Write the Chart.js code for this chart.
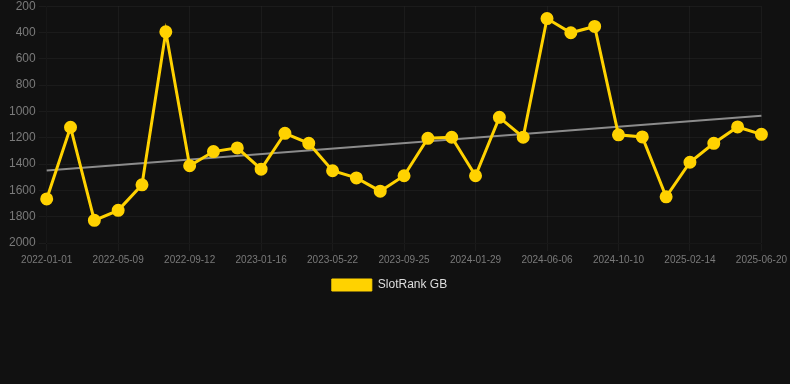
<!DOCTYPE html>
<html>
<head>
<meta charset="utf-8">
<script src="https://cdn.jsdelivr.net/npm/chart.js@4/dist/chart.umd.min.js"></script>
<style>
    html, body { margin: 0; padding: 0; background: #111111; overflow: hidden; }
    .chart-wrapper { position: relative; width: 790px; height: 305px; margin-top: -4px; }
</style>
</head>
<body>
<div class="chart-wrapper">
    <canvas id="rank-chart"></canvas>
</div>
<script>
// SlotRank GB - rank over time (lower is better, axis reversed)

const dates = [
    '2022-01-01', '2022-02-14', '2022-03-28', '2022-05-09', '2022-06-20', '2022-08-01',
    '2022-09-12', '2022-10-24', '2022-12-05', '2023-01-16', '2023-02-27', '2023-04-10',
    '2023-05-22', '2023-07-03', '2023-08-14', '2023-09-25', '2023-11-06', '2023-12-18',
    '2024-01-29', '2024-03-11', '2024-04-22', '2024-06-06', '2024-07-18', '2024-08-29',
    '2024-10-10', '2024-11-21', '2025-01-02', '2025-02-14', '2025-03-28', '2025-05-09',
    '2025-06-20'
];

const rankGB = [
    1665, 1120, 1828, 1752, 1558, 395, 1413, 1305, 1277, 1439,
    1166, 1242, 1451, 1505, 1606, 1489, 1204, 1196, 1489, 1045,
    1196, 294, 402, 354, 1178, 1194, 1649, 1386, 1242, 1118,
    1174
];

// trend line: only the two end points are given, gap spanned
const trend = [1449, null, null, null, null, null, null, null, null, null,
    null, null, null, null, null, null, null, null, null, null,
    null, null, null, null, null, null, null, null, null, null,
    1032];

const yTicks = { min: 200, max: 2000, step: 200 };

const textColor = '#7a7a7a';
const gridColor = 'rgba(255, 255, 255, 0.045)';
const lineColor = '#ffd200';

const ctx = document.getElementById('rank-chart').getContext('2d');

const chart = new Chart(ctx, {
    type: 'line',
    data: {
        labels: dates,
        datasets: [
            {
                label: 'SlotRank GB',
                data: rankGB,
                borderColor: lineColor,
                backgroundColor: lineColor,
                borderWidth: 3,
                pointRadius: 5,
                pointHoverRadius: 6,
                tension: 0,
                fill: false,
                order: 1
            },
            {
                label: 'Trend',
                data: trend,
                borderColor: '#8c8c8c',
                borderWidth: 2,
                pointRadius: 0,
                spanGaps: true,
                fill: false,
                order: 2
            }
        ]
    },
    options: {
        responsive: true,
        maintainAspectRatio: false,
        animation: false,
        layout: { padding: { left: 6, right: 17, top: 0, bottom: 0 } },
        scales: {
            x: {
                ticks: {
                    color: textColor,
                    font: { family: 'Liberation Sans, Arial', size: 10 },
                    maxRotation: 0,
                    autoSkip: true,
                    callback: function (val, i) {
                        return i % 3 === 0 ? this.getLabelForValue(val) : null;
                    }
                },
                grid: { color: gridColor }
            },
            y: {
                reverse: true,
                min: yTicks.min,
                max: yTicks.max,
                ticks: {
                    stepSize: yTicks.step,
                    color: textColor,
                    font: { family: 'Liberation Sans, Arial', size: 12 },
                    callback: (v) => String(v)
                },
                grid: { color: gridColor }
            }
        },
        plugins: {
            legend: {
                position: 'bottom',
                labels: {
                    color: '#dddddd',
                    font: { family: 'Liberation Sans, Arial', size: 12 },
                    generateLabels: (c) => Chart.defaults.plugins.legend.labels.generateLabels(c)
                        .filter(item => item.datasetIndex === 0)
                        .map(item => ({ ...item, lineWidth: 1 }))
                }
            },
            tooltip: { enabled: false }
        }
    }
});
</script>
</body>
</html>
